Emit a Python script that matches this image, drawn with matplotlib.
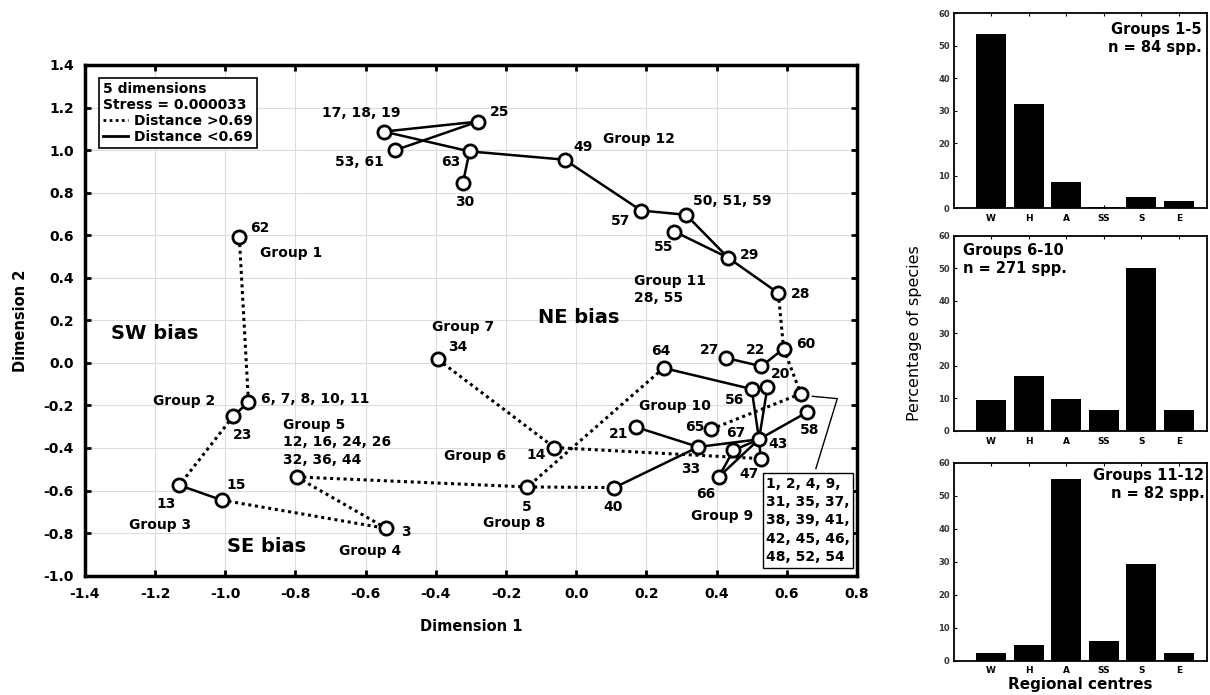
import matplotlib.pyplot as plt
from matplotlib.lines import Line2D

# MDS ordination points (Dimension 1, Dimension 2)
point_names = ['62', '6', '23', '13', '15', '3', 'G5', '34', '14', '5', '40', '21',
               '33', '64', '27', '22', '60', '56', '20', 'G9', '58', '65', '43', '67',
               '47', '66', '28', '29', '55', '50', '57', '49', '63', '30', '25', '17', '53']
dim1 = [-0.96, -0.934, -0.977, -1.131, -1.01, -0.541, -0.797, -0.394, -0.062, -0.139, 0.109, 0.169,
        0.348, 0.249, 0.427, 0.528, 0.591, 0.50, 0.545, 0.64, 0.659, 0.384, 0.521, 0.448,
        0.526, 0.406, 0.576, 0.433, 0.28, 0.313, 0.185, -0.033, -0.304, -0.323, -0.28, -0.548, -0.515]
dim2 = [0.59, -0.184, -0.25, -0.575, -0.645, -0.778, -0.536, 0.016, -0.398, -0.583, -0.586, -0.301,
        -0.395, -0.024, 0.023, -0.016, 0.067, -0.123, -0.114, -0.145, -0.231, -0.312, -0.359, -0.411,
        -0.45, -0.536, 0.328, 0.494, 0.617, 0.696, 0.716, 0.955, 0.994, 0.844, 1.134, 1.087, 1.00]

# links of the minimum spanning tree
solid_links = [('17', '25'), ('17', '63'), ('53', '25'), ('63', '30'), ('63', '49'), ('49', '57'),
               ('57', '50'), ('50', '29'), ('55', '29'), ('29', '28'), ('13', '15'), ('6', '23'),
               ('64', '56'), ('27', '22'), ('22', '60'), ('56', '43'), ('20', '43'), ('43', '58'),
               ('33', '43'), ('21', '33'), ('40', '33'), ('66', '67'), ('66', '43'), ('67', '43'),
               ('43', '47')]
dotted_links = [('62', '6'), ('23', '13'), ('15', '3'), ('G5', '3'), ('G5', '5'), ('34', '14'),
                ('64', '5'), ('14', '47'), ('5', '40'), ('65', 'G9'), ('60', 'G9'), ('28', '60')]

# point labels: text, x, y, horizontal alignment
labels = [
    ('17, 18, 19', -0.612, 1.173, 'center'), ('53, 61', -0.618, 0.946, 'center'),
    ('63', -0.358, 0.943, 'center'), ('25', -0.218, 1.178, 'center'), ('30', -0.318, 0.755, 'center'),
    ('49', 0.019, 1.013, 'center'), ('Group 12', 0.178, 1.053, 'center'), ('57', 0.125, 0.669, 'center'),
    ('50, 51, 59', 0.446, 0.76, 'center'), ('55', 0.248, 0.544, 'center'), ('29', 0.493, 0.509, 'center'),
    ('Group 11\n28, 55', 0.166, 0.344, 'left'), ('28', 0.64, 0.325, 'center'),
    ('Group 7', -0.322, 0.168, 'center'), ('34', -0.337, 0.074, 'center'),
    ('62', -0.901, 0.633, 'center'), ('Group 1', -0.811, 0.517, 'center'),
    ('Group 2', -1.117, -0.179, 'center'), ('6, 7, 8, 10, 11', -0.898, -0.168, 'left'),
    ('23', -0.95, -0.337, 'center'), ('Group 5\n12, 16, 24, 26\n32, 36, 44', -0.836, -0.373, 'left'),
    ('15', -0.97, -0.572, 'center'), ('13', -1.168, -0.661, 'center'), ('Group 3', -1.185, -0.76, 'center'),
    ('3', -0.484, -0.794, 'center'), ('Group 4', -0.588, -0.884, 'center'),
    ('Group 6', -0.287, -0.437, 'center'), ('14', -0.114, -0.434, 'center'),
    ('64', 0.242, 0.056, 'center'), ('27', 0.379, 0.062, 'center'), ('22', 0.512, 0.059, 'center'),
    ('60', 0.654, 0.09, 'center'), ('20', 0.583, -0.054, 'center'), ('56', 0.45, -0.173, 'center'),
    ('Group 10', 0.28, -0.204, 'center'), ('58', 0.664, -0.317, 'center'), ('65', 0.337, -0.301, 'center'),
    ('67', 0.455, -0.329, 'center'), ('43', 0.574, -0.383, 'center'), ('21', 0.121, -0.336, 'center'),
    ('33', 0.327, -0.501, 'center'), ('47', 0.493, -0.52, 'center'), ('66', 0.37, -0.614, 'center'),
    ('Group 9', 0.417, -0.72, 'center'), ('40', 0.104, -0.677, 'center'), ('5', -0.142, -0.677, 'center'),
    ('Group 8', -0.176, -0.752, 'center'),
]
bias_labels = [('SW bias', -1.2, 0.137), ('NE bias', 0.007, 0.215), ('SE bias', -0.882, -0.862)]
box_text = '1, 2, 4, 9,\n31, 35, 37,\n38, 39, 41,\n42, 45, 46,\n48, 52, 54'
leader_x = [0.673, 0.744, 0.683]
leader_y = [-0.157, -0.168, -0.497]

# regional centres bar charts
centres = ['W', 'H', 'A', 'SS', 'S', 'E']
groups_1_5 = [53.5, 32.0, 8.2, 0.5, 3.4, 2.3]
groups_6_10 = [9.4, 16.9, 9.8, 6.4, 50.0, 6.4]
groups_11_12 = [2.4, 4.8, 54.9, 6.1, 29.3, 2.4]

plt.rcParams['font.family'] = 'DejaVu Sans'
plt.rcParams['font.weight'] = 'bold'
plt.rcParams['axes.labelweight'] = 'bold'
plt.rcParams['axes.unicode_minus'] = False

fig = plt.figure(figsize=(12.1, 6.95), dpi=100)
ax = fig.add_axes([0.0702, 0.1717, 0.638, 0.7348])

pos = dict(zip(point_names, zip(dim1, dim2)))
dots = (0, (1, 1.2))
for a, b in dotted_links:
    ax.plot([pos[a][0], pos[b][0]], [pos[a][1], pos[b][1]], color='black', lw=2.2, ls=dots, zorder=2)
for a, b in solid_links:
    ax.plot([pos[a][0], pos[b][0]], [pos[a][1], pos[b][1]], color='black', lw=1.8, zorder=2)
ax.plot(dim1, dim2, 'o', ls='none', ms=9.5, mfc='white', mec='black', mew=2, zorder=3)

for txt, x, y, ha in labels:
    ax.text(x, y, txt, fontsize=10, ha=ha, va='center', linespacing=1.3, zorder=4)
for txt, x, y in bias_labels:
    ax.text(x, y, txt, fontsize=14, ha='center', va='center')

ax.plot(leader_x, leader_y, color='black', lw=1, zorder=2)
ax.text(0.541, -0.74, box_text, fontsize=10, ha='left', va='center', linespacing=1.4, zorder=5,
        bbox=dict(boxstyle='square,pad=0.25', fc='white', ec='black', lw=1))

ax.set_xlim(-1.4, 0.8)
ax.set_ylim(-1.0, 1.4)
ax.set_xticks([i / 10 for i in range(-14, 9, 2)])
ax.set_yticks([i / 10 for i in range(-10, 15, 2)])
ax.set_xticklabels([f'{i / 10:.1f}' for i in range(-14, 9, 2)])
ax.set_yticklabels([f'{i / 10:.1f}' for i in range(-10, 15, 2)])
ax.grid(True, color='#dcdcdc', lw=0.8)
ax.set_axisbelow(True)
ax.tick_params(direction='in', length=4, width=2, top=True, right=True, labelsize=10, pad=8)
for s in ax.spines.values():
    s.set_linewidth(2.5)
ax.set_xlabel('Dimension 1', fontsize=10.5, labelpad=13)
ax.set_ylabel('Dimension 2', fontsize=10.5, labelpad=11)

handles = [Line2D([], [], color='black', lw=2, ls=dots), Line2D([], [], color='black', lw=2)]
leg = ax.legend(handles, ['Distance >0.69', 'Distance <0.69'], title='5 dimensions\nStress = 0.000033',
                alignment='left', loc='upper left', bbox_to_anchor=(0.0185, 0.975), borderaxespad=0,
                fancybox=False, framealpha=1, edgecolor='black', handlelength=1.8, handletextpad=0.4,
                borderpad=0.3, labelspacing=0.15, prop={'size': 10, 'weight': 'bold'},
                title_fontproperties={'size': 10, 'weight': 'bold'})
leg.get_frame().set_linewidth(1.2)

bar_axes = [
    (fig.add_axes([0.7884, 0.7003, 0.2091, 0.2806]), groups_1_5, 'Groups 1-5\nn = 84 spp.', 0.979, 0.955, 'right'),
    (fig.add_axes([0.7884, 0.3799, 0.2091, 0.2806]), groups_6_10, 'Groups 6-10\nn = 271 spp.', 0.037, 0.965, 'left'),
    (fig.add_axes([0.7884, 0.0494, 0.2091, 0.2850]), groups_11_12, 'Groups 11-12\nn = 82 spp.', 0.99, 0.972, 'right'),
]
for bax, vals, title, tx, ty, ha in bar_axes:
    bax.bar(range(len(centres)), vals, width=0.8, color='black')
    bax.set_xlim(-0.99, 5.75)
    bax.set_ylim(0, 60)
    bax.set_yticks(range(0, 61, 10))
    bax.set_xticks(range(len(centres)))
    bax.set_xticklabels(centres)
    bax.tick_params(axis='y', labelsize=6, length=2, direction='in', pad=3, labelcolor='#333333')
    bax.tick_params(axis='x', labelsize=6.5, length=2, direction='in', top=True, pad=4)
    for s in bax.spines.values():
        s.set_linewidth(1.3)
    bax.text(tx, ty, title, transform=bax.transAxes, fontsize=10.5, ha=ha, va='top', linespacing=1.25)

bar_axes[1][0].set_ylabel('Percentage of species', fontsize=11.5, fontweight='normal', labelpad=12)
bar_axes[2][0].set_xlabel('Regional centres', fontsize=11, labelpad=1)

fig.savefig('out.png', dpi=100)
